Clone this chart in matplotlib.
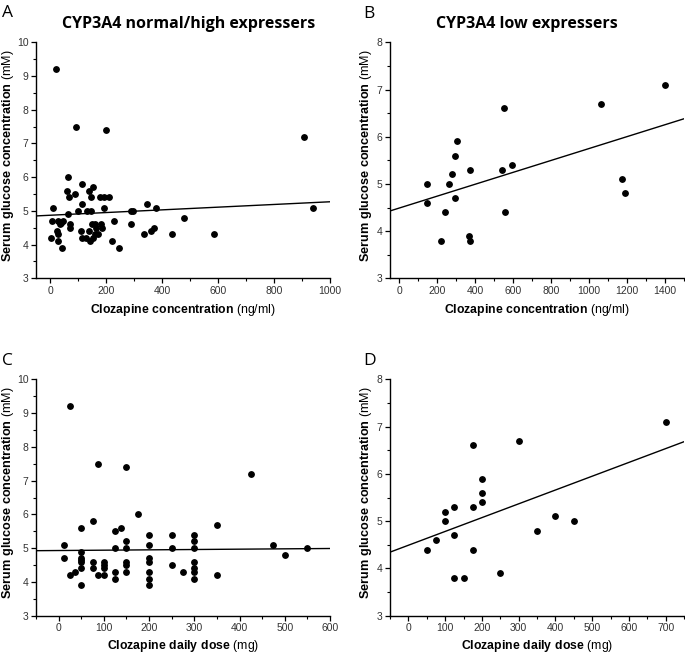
import numpy as np
import matplotlib
matplotlib.use("Agg")
import matplotlib.pyplot as plt
from matplotlib.ticker import AutoMinorLocator, MultipleLocator

plt.rcParams['font.family'] = ['Liberation Sans', 'DejaVu Sans']
plt.rcParams['mathtext.fontset'] = 'custom'
plt.rcParams['mathtext.rm'] = 'Liberation Sans'
plt.rcParams['mathtext.bf'] = 'Liberation Sans:bold'

# ---- Data ----
# Panel A: CYP3A4 normal/high, clozapine concentration (ng/ml) vs glucose (mM)
a_conc = [21, 93, 200, 908, 940, 65, 115, 153, 60, 138, 88, 68, 145, 180, 194, 211,
          115, 345, 12, 194, 377, 99, 131, 145, 291, 298, 65, 480, 6, 28, 40, 48, 36,
          229, 70, 71, 150, 160, 182, 289, 186, 165, 24, 110, 140, 30, 160, 170, 337,
          435, 586, 360, 372, 4, 115, 128, 152, 28, 142, 220, 43, 246]
a_gluc = [9.2, 7.5, 7.4, 7.2, 5.1, 6.0, 5.8, 5.7, 5.6, 5.6, 5.5, 5.4, 5.4, 5.4, 5.4, 5.4,
          5.2, 5.2, 5.1, 5.1, 5.1, 5.0, 5.0, 5.0, 5.0, 5.0, 4.9, 4.8, 4.7, 4.7, 4.65, 4.7, 4.6,
          4.7, 4.6, 4.5, 4.6, 4.6, 4.6, 4.6, 4.5, 4.5, 4.4, 4.4, 4.4, 4.3, 4.3, 4.3, 4.3,
          4.3, 4.3, 4.4, 4.5, 4.2, 4.2, 4.2, 4.2, 4.1, 4.1, 4.1, 3.9, 3.9]

# Panel B: CYP3A4 low, concentration vs glucose
b_conc = [143, 143, 220, 238, 259, 279, 295, 303, 295, 367, 370, 374, 541, 550, 554, 591,
          1062, 1171, 1190, 1400]
b_gluc = [5.0, 4.6, 3.8, 4.4, 5.0, 5.2, 5.6, 5.9, 4.7, 3.9, 3.8, 5.3, 5.3, 6.6, 4.4, 5.4,
          6.7, 5.1, 4.8, 7.1]

# Panel C: CYP3A4 normal/high, daily dose (mg) vs glucose
c_dose = [12, 12, 25, 25, 37,
          50, 50, 50, 50, 50, 50, 50,
          75, 75, 75, 87, 87,
          100, 100, 100, 100,
          125, 125, 125, 125, 137,
          150, 150, 150, 150, 150, 150, 175,
          200, 200, 200, 200, 200, 200, 200,
          250, 250, 250, 275,
          300, 300, 300, 300, 300, 300, 300,
          350, 350, 425, 475, 500, 550]
c_gluc = [5.1, 4.7, 9.2, 4.2, 4.3,
          5.6, 4.9, 4.7, 4.65, 4.6, 4.4, 3.9,
          5.8, 4.6, 4.4, 7.5, 4.2,
          4.6, 4.5, 4.4, 4.2,
          5.5, 5.0, 4.3, 4.1, 5.6,
          7.4, 5.2, 5.0, 4.6, 4.5, 4.3, 6.0,
          5.4, 5.1, 4.7, 4.6, 4.3, 4.1, 3.9,
          5.4, 5.0, 4.5, 4.3,
          5.4, 5.2, 5.0, 4.6, 4.4, 4.3, 4.1,
          5.7, 4.2, 7.2, 5.1, 4.8, 5.0]

# Panel D: CYP3A4 low, daily dose vs glucose
d_dose = [50, 75, 100, 100, 125, 125, 125, 150, 175, 175, 175, 200, 200, 200, 250, 300,
          350, 400, 450, 700]
d_gluc = [4.4, 4.6, 5.2, 5.0, 5.3, 4.7, 3.8, 3.8, 6.6, 5.3, 4.4, 5.9, 5.6, 5.4, 3.9, 6.7,
          4.8, 5.1, 5.0, 7.1]

# Regression lines (intercept, slope)
fit_a = (4.87, 0.0004)
fit_b = (4.49, 0.00126)
fit_c = (4.93, 0.0001)
fit_d = (4.49, 0.00292)

titles = ["CYP3A4 normal/high expressers", "CYP3A4 low expressers"]
letters = ["A", "B", "C", "D"]
ylabel = r"$\mathbf{Serum\ glucose\ concentration}$ (mM)"
xlabel_conc = r"$\mathbf{Clozapine\ concentration}$ (ng/ml)"
xlabel_dose = r"$\mathbf{Clozapine\ daily\ dose}$ (mg)"

W, H = 685, 654
fig = plt.figure(figsize=(W / 100, H / 100), dpi=100)

def box(l, r, t, b):
    return [l / W, 1 - b / H, (r - l) / W, (b - t) / H]

panels = [
    dict(rect=box(36, 330, 42.3, 278.3), x=a_conc, y=a_gluc, fit=fit_a,
         xlim=(-50, 1000), ylim=(3, 10), xmaj=200, xlabel=xlabel_conc, ylx=15.8, l=36, xpad=4.2),
    dict(rect=box(390, 684, 42.3, 278.3), x=b_conc, y=b_gluc, fit=fit_b,
         xlim=(-50, 1500), ylim=(3, 8), xmaj=200, xlabel=xlabel_conc, ylx=374.5, l=390, xpad=4.2),
    dict(rect=box(36, 330, 379.3, 615.7), x=c_dose, y=c_gluc, fit=fit_c,
         xlim=(-50, 600), ylim=(3, 10), xmaj=100, xlabel=xlabel_dose, ylx=15.8, l=36, xpad=3.3),
    dict(rect=box(390, 684, 379.3, 615.7), x=d_dose, y=d_gluc, fit=fit_d,
         xlim=(-50, 750), ylim=(3, 8), xmaj=100, xlabel=xlabel_dose, ylx=374.5, l=390, xpad=3.3),
]

for i, p in enumerate(panels):
    ax = fig.add_axes(p['rect'])
    ax.plot(p['x'], p['y'], 'o', color='black', markersize=3.9, clip_on=False, zorder=3)
    xs = np.array(p['xlim'], dtype=float)
    ax.plot(xs, p['fit'][0] + p['fit'][1] * xs, color='black', lw=1.0, zorder=2)
    ax.set_xlim(*p['xlim'])
    ax.set_ylim(*p['ylim'])
    ax.xaxis.set_major_locator(MultipleLocator(p['xmaj']))
    ax.yaxis.set_major_locator(MultipleLocator(1))
    ax.xaxis.set_minor_locator(AutoMinorLocator(2))
    ax.yaxis.set_minor_locator(AutoMinorLocator(2))
    for s in ['top', 'right']:
        ax.spines[s].set_visible(False)
    for s in ['left', 'bottom']:
        ax.spines[s].set_linewidth(1.0)
    ax.tick_params(which='major', direction='out', length=3.5, width=0.9, labelsize=7.5,
                   labelcolor='#333333', pad=2)
    ax.tick_params(which='minor', direction='out', length=2, width=0.8)
    ax.set_ylabel(ylabel, fontsize=9.1)
    ax.yaxis.set_label_coords((p['ylx'] - p['l']) / 294.0, 0.52)
    ax.set_xlabel(p['xlabel'], fontsize=8.8, labelpad=p['xpad'])

# Panel letters and titles
lt = dict(family=['Open Sans', 'DejaVu Sans'], fontsize=12.5, ha='left', va='baseline')
fig.text(2 / W, 1 - 17 / H, letters[0], **lt)
fig.text(363 / W, 1 - 18 / H, letters[1], **lt)
fig.text(2 / W, 1 - 365 / H, letters[2], **lt)
fig.text(363 / W, 1 - 365 / H, letters[3], **lt)
tt = dict(family=['Open Sans', 'DejaVu Sans'], fontsize=11.5, weight='bold', ha='center',
          va='baseline')
fig.text(189 / W, 1 - 28.5 / H, titles[0], **tt)
fig.text(527 / W, 1 - 28.5 / H, titles[1], **tt)

fig.savefig("out.png", dpi=100)
